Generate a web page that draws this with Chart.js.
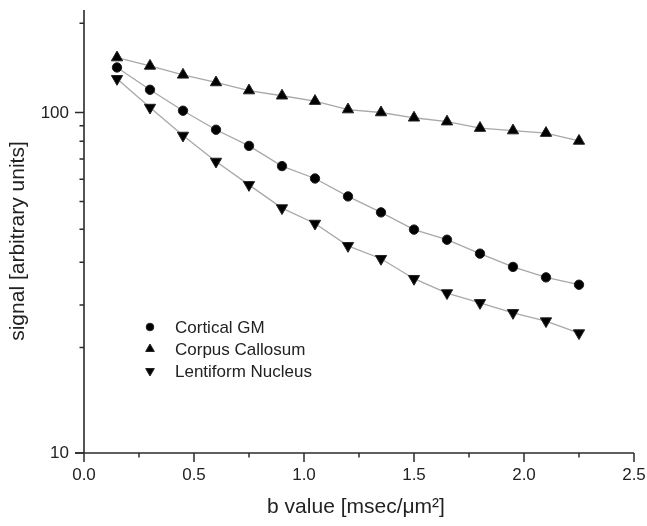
<!DOCTYPE html>
<html><head><meta charset="utf-8">
<script src="https://cdn.jsdelivr.net/npm/chart.js@4.4.1/dist/chart.umd.min.js"></script>
<style>html,body{margin:0;padding:0;background:#fff;}</style>
</head><body>
<canvas id="c" width="647" height="526"></canvas>
<script>
// ---- data ----
const bValues = [0.15, 0.30, 0.45, 0.60, 0.75, 0.90, 1.05, 1.20, 1.35, 1.50, 1.65, 1.80, 1.95, 2.10, 2.25];
const corticalGM = [135.6, 116.6, 101.2, 89.0, 79.8, 69.6, 64.0, 56.7, 50.9, 45.3, 42.3, 38.5, 35.2, 32.8, 31.2];
const corpusCallosum = [145, 137, 129, 122.5, 116, 112, 108, 102, 100, 96.5, 94, 90, 88.5, 87, 82.5];
const lentiformNucleus = [125.6, 103.4, 85.6, 71.8, 61.3, 52.4, 47.2, 40.6, 37.2, 32.5, 29.5, 27.6, 25.8, 24.4, 22.5];
const seriesLabels = ['Cortical GM', 'Corpus Callosum', 'Lentiform Nucleus'];
const xMajorTicks = [0, 0.5, 1.0, 1.5, 2.0, 2.5];
const xMinorTicks = [0.25, 0.75, 1.25, 1.75, 2.25];
const yMajorTicks = [10, 100];
const yMinorTicks = [20.4, 27.2, 36.3, 45.4, 54.8, 63.7, 73.0, 82.4, 91.4, 183];
const xTitle = 'b value [msec/\u03BCm\u00B2]';
const yTitle = 'signal [arbitrary units]';

const FONT = '"Liberation Sans", Arial, Helvetica, sans-serif';
const AXIS = '#2b2b2b';
const TEXT = '#222';

function pts(vals){ return bValues.map((b,i)=>({x:b, y:vals[i]})); }

const styles = [
  {pointStyle:'circle', rotation:0, radius:4.7, legendRadius:3.8},
  {pointStyle:'triangle', rotation:0, radius:6.5, legendRadius:5},
  {pointStyle:'triangle', rotation:180, radius:6.5, legendRadius:5}
];
const seriesData = [corticalGM, corpusCallosum, lentiformNucleus];

function drawMarker(ctx, st, r, x, y){
  ctx.save();
  ctx.fillStyle = '#000';
  ctx.strokeStyle = '#222';
  ctx.lineWidth = 1;
  ctx.beginPath();
  if (st.pointStyle === 'circle') {
    ctx.arc(x, y, r, 0, Math.PI*2);
  } else {
    let rad = st.rotation * Math.PI/180;
    for (let k=0;k<3;k++){
      const px = x + Math.sin(rad)*r, py = y - Math.cos(rad)*r;
      if (k===0) ctx.moveTo(px,py); else ctx.lineTo(px,py);
      rad += 2*Math.PI/3;
    }
    ctx.closePath();
  }
  ctx.fill(); ctx.stroke();
  ctx.restore();
}

const axesPlugin = {
  id: 'axesPlugin',
  afterDraw(chart){
    const ctx = chart.ctx, xs = chart.scales.x, ys = chart.scales.y, a = chart.chartArea;
    ctx.save();
    ctx.strokeStyle = AXIS;
    ctx.lineWidth = 1.6;
    ctx.lineCap = 'butt';
    // axis lines
    ctx.beginPath();
    ctx.moveTo(a.left, ys.getPixelForValue(ys.max)); ctx.lineTo(a.left, a.bottom);
    ctx.moveTo(a.left - 9, a.bottom); ctx.lineTo(xs.getPixelForValue(xs.max), a.bottom);
    ctx.stroke();
    ctx.lineWidth = 1.5;
    ctx.beginPath();
    xMajorTicks.forEach(v=>{ const p = xs.getPixelForValue(v); ctx.moveTo(p, a.bottom); ctx.lineTo(p, a.bottom+9); });
    xMinorTicks.forEach(v=>{ const p = xs.getPixelForValue(v); ctx.moveTo(p, a.bottom); ctx.lineTo(p, a.bottom+4.5); });
    yMajorTicks.forEach(v=>{ const p = ys.getPixelForValue(v); ctx.moveTo(a.left-9, p); ctx.lineTo(a.left, p); });
    yMinorTicks.forEach(v=>{ const p = ys.getPixelForValue(v); ctx.moveTo(a.left-4.5, p); ctx.lineTo(a.left, p); });
    ctx.stroke();
    // tick labels
    ctx.fillStyle = TEXT;
    ctx.font = '17px ' + FONT;
    ctx.textBaseline = 'middle';
    ctx.textAlign = 'center';
    xMajorTicks.forEach(v=>{ ctx.fillText(v.toFixed(1), xs.getPixelForValue(v), a.bottom + 22); });
    ctx.textAlign = 'right';
    yMajorTicks.forEach(v=>{ ctx.fillText(String(v), a.left - 15, ys.getPixelForValue(v) + 0.5); });
    // axis titles
    ctx.font = '21px ' + FONT;
    ctx.textAlign = 'center';
    ctx.fillText(xTitle, (a.left + a.right)/2 - 3, 507);
    ctx.save();
    ctx.translate(18, 241);
    ctx.rotate(-Math.PI/2);
    ctx.fillText(yTitle, 0, 0);
    ctx.restore();
    // legend
    ctx.font = '17px ' + FONT;
    ctx.textAlign = 'left';
    chart.data.datasets.forEach((ds, i)=>{
      const y = 327 + i*22;
      drawMarker(ctx, styles[i], styles[i].legendRadius, 150, y);
      ctx.fillStyle = TEXT;
      ctx.fillText(ds.label, 175, y+1);
    });
    ctx.restore();
  }
};

new Chart(document.getElementById('c'), {
  type: 'scatter',
  data: {
    datasets: seriesData.map((vals, i)=>({
      label: seriesLabels[i],
      data: pts(vals),
      showLine: true,
      borderColor: '#a8a8a8',
      borderWidth: 1.3,
      backgroundColor: '#000',
      pointBackgroundColor: '#000',
      pointBorderColor: '#222',
      pointBorderWidth: 1,
      pointStyle: styles[i].pointStyle,
      pointRotation: styles[i].rotation,
      pointRadius: styles[i].radius,
      pointHoverRadius: styles[i].radius,
      tension: 0
    }))
  },
  options: {
    responsive: false,
    animation: false,
    devicePixelRatio: 1,
    layout: { padding: { left: 0, right: 13, top: 10, bottom: 0 } },
    plugins: { legend: { display: false }, tooltip: { enabled: false } },
    scales: {
      x: {
        type: 'linear', min: 0, max: 2.5,
        grid: { display: false }, border: { display: false },
        afterBuildTicks: s => { s.ticks = xMajorTicks.map(v=>({value:v})); },
        ticks: { display: false },
        afterFit: s => { s.height = 73; }
      },
      y: {
        type: 'logarithmic', min: 10, max: 200,
        grid: { display: false }, border: { display: false },
        afterBuildTicks: s => { s.ticks = yMajorTicks.map(v=>({value:v})); },
        ticks: { display: false },
        afterFit: s => { s.width = 84; }
      }
    }
  },
  plugins: [axesPlugin]
});
</script>
</body></html>
